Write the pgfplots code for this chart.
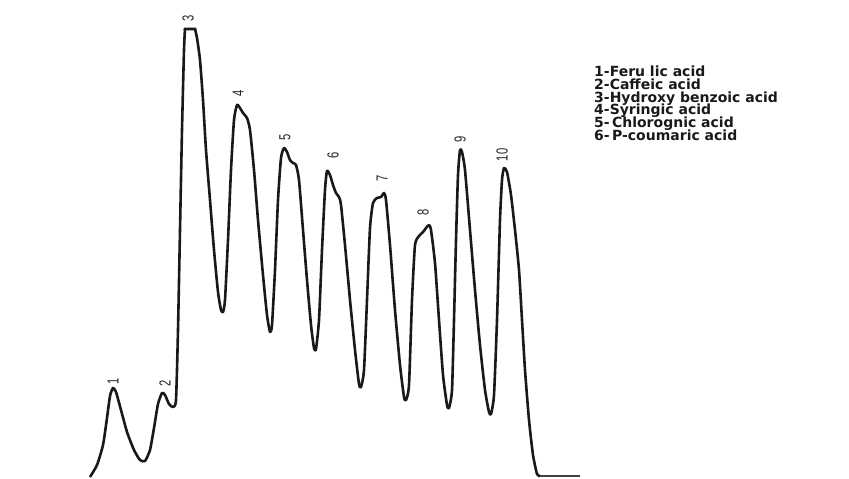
\documentclass[border=0pt]{standalone}
\usepackage{pgfplots}
\pgfplotsset{compat=1.18}
\usepackage{fontspec}
\setmainfont{DejaVu Sans}
\newfontfamily\narrowfont{Liberation Sans}
\newcommand{\pk}[1]{\scalebox{0.7}[1]{\narrowfont\fontsize{16}{16}\selectfont #1}}
\newcommand{\legfont}{\bfseries\fontsize{14}{12.7}\selectfont\lineskiplimit=-20pt\relax\lineskip=0pt\relax}
\begin{document}
\begin{tikzpicture}
\begin{axis}[
  width=849pt, height=477pt, scale only axis,
  xmin=0, xmax=849, ymin=0, ymax=477,
  y dir=reverse,
  hide axis, clip=false,
]
\path (axis cs:0,0) rectangle (axis cs:849,477);
\addplot[line width=2.6pt, color=black!90, line join=round, smooth, tension=0.35] coordinates {
(90,477) (97,465) (103,445) (107,418) (110,396) (113,388) (116,392) (121,410) (127,432) (134,450) (140,460) (145,461)
(150,450) (154,428) (158,404) (162,393) (165,395) (169,404) (173,407) (176,400)
(178,330) (180,230) (182,130) (184,50) (185,29)
};
\addplot[line width=2.6pt, color=black!90, line join=round, smooth, tension=0.35] coordinates {
(195,29) (197,38) (200,60) (203,100) (206,150) (210,200) (214,250) (218,292) (221,310) (223,312)
(225,300) (228,240) (231,170) (234,120) (237,105) (240,108) (243,113) (247,118) (250,130) (254,170)
(258,220) (263,275) (267,315) (270,332) (272,325) (275,270) (278,200) (281,158) (284,148) (287,152)
(290,160) (293,163) (296,165) (299,180) (303,230) (307,280) (311,325) (314,348) (316,349) (319,320)
(322,250) (325,190) (327,171) (330,175) (333,185) (336,193) (339,197) (341,205) (345,245) (350,300)
(355,350) (359,384) (361,387) (364,370) (367,300) (370,228) (373,203) (377,198) (381,197) (384,193)
(386,200) (390,245) (395,310) (400,365) (404,397) (406,400) (409,385) (412,300) (415,245) (419,236)
(423,232) (426,228) (429,225) (431,230) (435,263) (439,320) (443,375) (447,405) (449,408) (452,390)
(454,320) (456,240) (458,175) (460,150) (462,152) (465,170) (470,230) (475,290) (480,345) (485,390)
(489,412) (491,414) (494,395) (497,320) (500,220) (502,180) (504,168) (507,172) (511,195) (515,230)
(519,270) (522,320) (525,370) (529,420) (533,455) (537,474) (540,476)
};
\addplot[line width=2.6pt, color=black!90] coordinates {(184.6,30) (185,29) (195,29) (195.4,30)};
\addplot[line width=2.2pt, color=black!75] coordinates {(540,476) (580,476)};
% peak labels
\node[rotate=90, inner sep=0pt, text=black!85] at (axis cs:113,381) {\pk{1}};
\node[rotate=90, inner sep=0pt, text=black!85] at (axis cs:165,383) {\pk{2}};
\node[rotate=90, inner sep=0pt, text=black!85] at (axis cs:188,18) {\pk{3}};
\node[rotate=90, inner sep=0pt, text=black!85] at (axis cs:238,93) {\pk{4}};
\node[rotate=90, inner sep=0pt, text=black!85] at (axis cs:285,137) {\pk{5}};
\node[rotate=90, inner sep=0pt, text=black!85] at (axis cs:333,155) {\pk{6}};
\node[rotate=90, inner sep=0pt, text=black!85] at (axis cs:382,178) {\pk{7}};
\node[rotate=90, inner sep=0pt, text=black!85] at (axis cs:423,212) {\pk{8}};
\node[rotate=90, inner sep=0pt, text=black!85] at (axis cs:460,139) {\pk{9}};
\node[rotate=90, inner sep=0pt, text=black!85] at (axis cs:502,155) {\pk{10}};
% legend text
\node[anchor=north west, align=left, inner sep=0pt, font=\legfont, text=black!90] at (axis cs:594,66) {%
1-Feru lic acid\\
2-Caffeic acid\\
3-Hydroxy benzoic acid\\
4-Syringic acid\\
5-\,Chlorognic acid\\
6-\,P-coumaric acid};
\end{axis}
\end{tikzpicture}
\end{document}
